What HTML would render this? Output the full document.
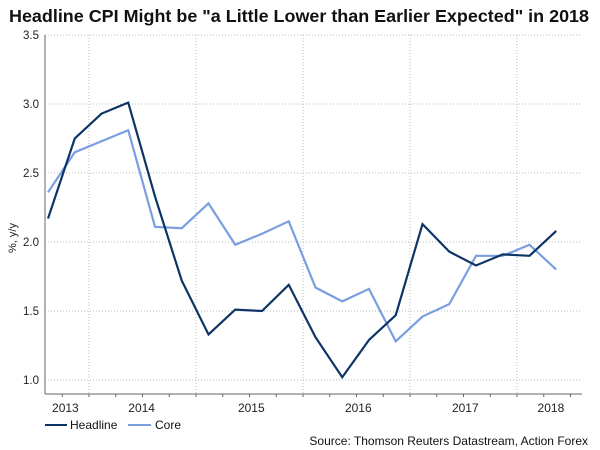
<!DOCTYPE html>
<html><head><meta charset="utf-8"><style>
body{margin:0;background:#fff;}
svg{display:block;font-family:"Liberation Sans",sans-serif;}
</style></head><body>
<svg id="c" width="600" height="450">
<text x="9" y="22" font-size="17.5" font-weight="bold" fill="#111" textLength="580" lengthAdjust="spacingAndGlyphs">Headline CPI Might be "a Little Lower than Earlier Expected" in 2018</text>
<g id="grid"></g><g id="axes"></g><g id="series"></g>
<text transform="translate(16,238) rotate(-90)" text-anchor="middle" font-size="11" fill="#222">%, y/y</text>
<g>
<line x1="45" y1="425" x2="67" y2="425" stroke="#0d3464" stroke-width="2"/>
<text x="70" y="429" font-size="12" fill="#111">Headline</text>
<line x1="128" y1="425" x2="151" y2="425" stroke="#7a9ee0" stroke-width="2"/>
<text x="155" y="429" font-size="12" fill="#111">Core</text>
</g>
<text x="588" y="445" text-anchor="end" font-size="12" fill="#111">Source: Thomson Reuters Datastream, Action Forex</text>
</svg>
<script>
const headline=[2.17,2.75,2.93,3.01,2.33,1.72,1.33,1.51,1.50,1.69,1.31,1.02,1.29,1.47,2.13,1.93,1.83,1.91,1.90,2.08];
const core=[2.36,2.65,2.73,2.81,2.11,2.10,2.28,1.98,2.06,2.15,1.67,1.57,1.66,1.28,1.46,1.55,1.90,1.90,1.98,1.80];
const yTicks=[1.0,1.5,2.0,2.5,3.0,3.5];
const yearLabels=["2013","2014","2015","2016","2017","2018"];
const yearPos=[0.65,3.5,7.6,11.6,15.6,18.8];
const NS="http://www.w3.org/2000/svg";
const L=45,R=582,T=35,B=394;
const y=v=>35+(3.5-v)*138;
const x=i=>48+i*26.75;
function mk(p,t,a){const e=document.createElementNS(NS,t);for(const k in a)e.setAttribute(k,a[k]);p.appendChild(e);return e;}
const g=document.getElementById('grid'),ax=document.getElementById('axes'),s=document.getElementById('series');
yTicks.forEach(v=>{
  const l=mk(g,'line',{x1:L,x2:R,y1:y(v),y2:y(v),stroke:'#bbb','stroke-dasharray':'1,2'});
  
  
  const t=mk(ax,'text',{x:39,y:y(v)+4,'text-anchor':'end','font-size':11.5,fill:'#222'});
  t.textContent=v.toFixed(1);
  
  
});
for(let k=0;k<5;k++){
  const gx=89+k*107;
  const l=mk(g,'line',{x1:gx,x2:gx,y1:T,y2:B+4,stroke:'#bbb','stroke-dasharray':'1,2'});
  
  
}
for(let q=-1;q<21;q++){const qx=89+(q-1)*26.75;if(qx<L||qx>R)continue;mk(ax,'line',{x1:qx,x2:qx,y1:B,y2:B+3,stroke:'#666'});}
mk(ax,'line',{x1:L,x2:L,y1:T,y2:B,stroke:'#666'});
mk(ax,'line',{x1:L,x2:R,y1:B,y2:B,stroke:'#666'});
yearLabels.forEach((lab,i)=>{
  const t=mk(ax,'text',{x:x(yearPos[i]),y:412,'text-anchor':'middle','font-size':12,fill:'#222'});
  t.textContent=lab;
  
  
});
function line(d,c,n){
  const p=mk(s,'polyline',{points:d.map((v,i)=>x(i)+','+y(v)).join(' '),fill:'none',stroke:c,'stroke-width':2.2,'stroke-linejoin':'miter'});
  
  
}
line(core,'#7a9ee0','core-line');
line(headline,'#0d3464','headline-line');
</script>
</body></html>
